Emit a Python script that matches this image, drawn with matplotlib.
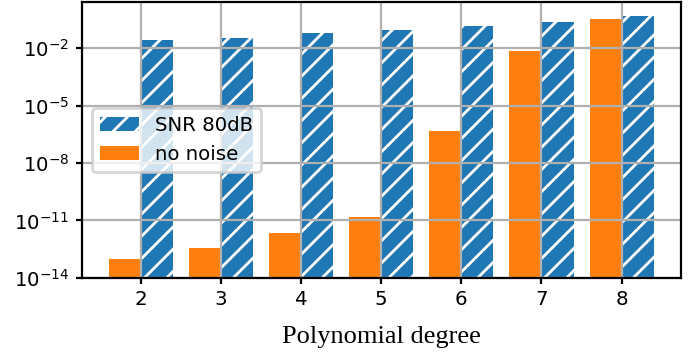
import numpy as np
import matplotlib.pyplot as plt

# polynomial degrees and errors
degrees = [2, 3, 4, 5, 6, 7, 8]
snr_80db = [2.6e-2, 3.5e-2, 5.8e-2, 8.7e-2, 1.4e-1, 2.3e-1, 4.7e-1]
no_noise = [1.0e-13, 3.8e-13, 2.3e-12, 1.6e-11, 4.9e-7, 6.9e-3, 3.2e-1]
ytick_vals = [1e-14, 1e-11, 1e-8, 1e-5, 1e-2]

fig, ax = plt.subplots(figsize=(3.495, 1.8), dpi=200)
fig.subplots_adjust(left=0.117, right=0.974, top=0.994, bottom=0.228)

x = np.array(degrees)
w = 0.4
ax.bar(x + w / 2, snr_80db, w, color='#1f77b4', edgecolor='white',
       hatch='///', linewidth=0, label='SNR 80dB')
ax.bar(x - w / 2, no_noise, w, color='#ff7f0e', label='no noise')

ax.set_yscale('log')
ax.set_ylim(1e-14, 2.5)
ax.set_yticks(ytick_vals)
ax.minorticks_off()
ax.set_xticks(degrees)
ax.tick_params(labelsize=7.1, length=2, pad=2.5)
ax.grid(True, color='#b0b0b0')

ax.set_xlabel('Polynomial degree', family='Liberation Serif', fontsize=9.5,
              labelpad=6)
ax.legend(loc='center left', fontsize=7.1)

plt.savefig('out.png')
